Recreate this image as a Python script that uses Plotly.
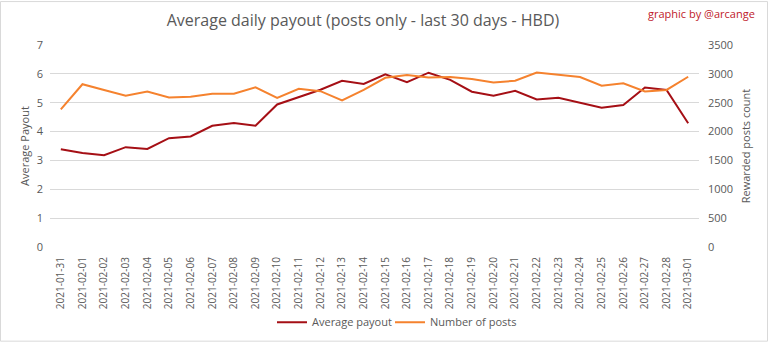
import plotly.graph_objects as go

dates = ["2021-01-31", "2021-02-01", "2021-02-02", "2021-02-03", "2021-02-04", "2021-02-05",
         "2021-02-06", "2021-02-07", "2021-02-08", "2021-02-09", "2021-02-10", "2021-02-11",
         "2021-02-12", "2021-02-13", "2021-02-14", "2021-02-15", "2021-02-16", "2021-02-17",
         "2021-02-18", "2021-02-19", "2021-02-20", "2021-02-21", "2021-02-22", "2021-02-23",
         "2021-02-24", "2021-02-25", "2021-02-26", "2021-02-27", "2021-02-28", "2021-03-01"]

avg_payout = [3.39, 3.26, 3.18, 3.46, 3.40, 3.77, 3.83, 4.20, 4.30, 4.20, 4.94, 5.19,
              5.45, 5.76, 5.65, 5.98, 5.71, 6.04, 5.79, 5.38, 5.24, 5.41, 5.11, 5.17,
              5.00, 4.83, 4.92, 5.53, 5.44, 4.29]

num_posts = [2385, 2820, 2720, 2620, 2692, 2590, 2605, 2655, 2655, 2768, 2585, 2740,
             2700, 2540, 2722, 2932, 2978, 2935, 2946, 2912, 2852, 2880, 3022, 2980,
             2946, 2794, 2835, 2695, 2722, 2950]

left_ticks = [0, 1, 2, 3, 4, 5, 6, 7]
right_ticks = [0, 500, 1000, 1500, 2000, 2500, 3000, 3500]

W, H = 768, 349
ML, MR, MT, MB = 50, 69, 45, 97
pw, ph = W - ML - MR, H - MT - MB

font = "Open Sans, Arial, sans-serif"
grey = "#595959"

fig = go.Figure()
fig.add_trace(go.Scatter(x=dates, y=avg_payout, name="Average payout", mode="lines",
                         line=dict(color="#a50f15", width=2), yaxis="y", legend="legend"))
fig.add_trace(go.Scatter(x=dates, y=num_posts, name="Number of posts", mode="lines",
                         line=dict(color="#f5822e", width=2), yaxis="y2", legend="legend2"))

leg_y = -(329 - MT - ph) / ph
fig.update_layout(
    width=W, height=H,
    margin=dict(l=ML, r=MR, t=MT, b=MB),
    paper_bgcolor="white", plot_bgcolor="white",
    font=dict(family=font, color=grey, size=11),
    title=dict(text="Average daily payout (posts only - last 30 days - HBD)",
               x=363 / W, xanchor="center", y=1 - 20 / H, yanchor="middle",
               font=dict(size=16, color=grey, family=font)),
    xaxis=dict(type="category", tickangle=-90, showgrid=False, showline=False,
               ticks="", tickfont=dict(size=10, color=grey), range=[-0.5, len(dates) - 0.5],
               ticklabelstandoff=7),
    yaxis=dict(range=[0, 7], tickvals=left_ticks, showgrid=True, gridcolor="#d9d9d9",
               gridwidth=1, zeroline=False, showline=False, ticks="",
               tickfont=dict(size=11, color=grey), ticklabelstandoff=6,
               title=dict(text="Average Payout", font=dict(size=11, color=grey), standoff=4)),
    yaxis2=dict(range=[0, 3500], tickvals=right_ticks, overlaying="y", side="right",
                showgrid=False, zeroline=False, showline=False, ticks="",
                tickfont=dict(size=11, color=grey), ticklabelstandoff=8,
                title=dict(text="Rewarded posts count", font=dict(size=11, color=grey), standoff=10)),
    legend=dict(orientation="h", x=(272 - ML) / pw, xanchor="left", y=leg_y,
                yanchor="middle", font=dict(size=11, color=grey), itemwidth=30,
                bgcolor="rgba(0,0,0,0)"),
    legend2=dict(orientation="h", x=(390 - ML) / pw, xanchor="left", y=leg_y,
                 yanchor="middle", font=dict(size=11, color=grey), itemwidth=30,
                 bgcolor="rgba(0,0,0,0)"),
    showlegend=True,
)

fig.add_annotation(text="graphic by @arcange", xref="paper", yref="paper",
                   x=(757 - ML) / pw, y=1 + (MT - 13) / ph, xanchor="right", yanchor="middle",
                   showarrow=False, font=dict(size=11, color="#c0202a", family=font))

fig.add_shape(type="rect", xref="paper", yref="paper",
              x0=(0.5 - ML) / pw, x1=(W - 0.5 - ML) / pw,
              y0=-(MB - 0.5) / ph, y1=1 + (MT - 0.5) / ph,
              line=dict(color="#d9d9d9", width=1), fillcolor="rgba(0,0,0,0)", layer="below")

fig.write_html("out.html")
